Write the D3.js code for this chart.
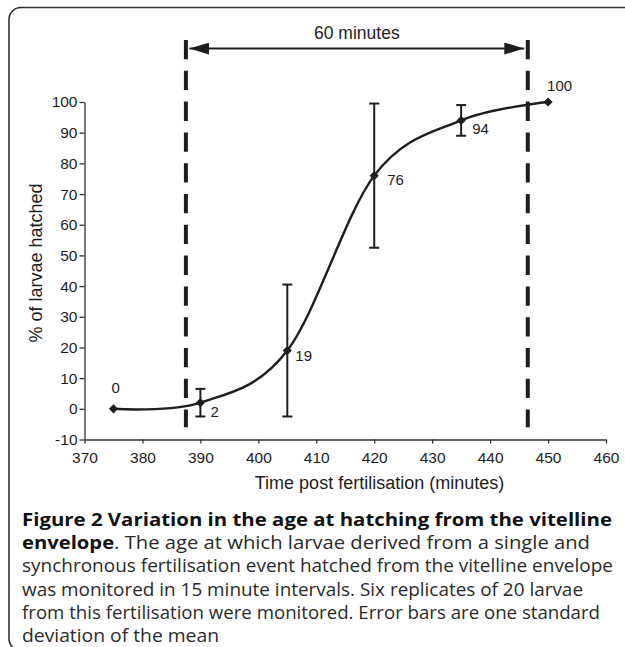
<!DOCTYPE html>
<html>
<head>
<meta charset="utf-8">
<script src="https://cdn.jsdelivr.net/npm/d3@7/dist/d3.min.js"></script>
<style>
  html, body { margin: 0; padding: 0; background: #fff; }
  svg { display: block; }
</style>
</head>
<body>
<script>
// ---------- data ----------
const times = [375, 390, 405, 420, 435, 450];
const hatched = [0, 2, 19, 76, 94, 100];
const sdev = [0, 4.5, 21.5, 23.5, 5, 0];
const pointLabels = ["0", "2", "19", "76", "94", "100"];
const xTicks = [370, 380, 390, 400, 410, 420, 430, 440, 450, 460];
const yTicks = [-10, 0, 10, 20, 30, 40, 50, 60, 70, 80, 90, 100];
const windowMarks = [387.5, 446.5];
const windowText = "60 minutes";
const xTitle = "Time post fertilisation (minutes)";
const yTitle = "% of larvae hatched";
const captionBold = ["Figure 2 Variation in the age at hatching from the vitelline", "envelope"];
const captionLine2Rest = ". The age at which larvae derived from a single and";
const captionLines = [
  "synchronous fertilisation event hatched from the vitelline envelope",
  "was monitored in 15 minute intervals. Six replicates of 20 larvae",
  "from this fertilisation were monitored. Error bars are one standard",
  "deviation of the mean"
];

// ---------- layout ----------
const W = 625, H = 647;
const svg = d3.select("body").append("svg").attr("width", W).attr("height", H);

const x = d3.scaleLinear().domain([370, 460]).range([84.5, 606]);
const y = d3.scaleLinear().domain([-10, 100]).range([439.5, 102]);
const ink = "#1e1e1e";
const chartFont = "'Liberation Sans', Arial, Helvetica, sans-serif";
const capFont = "'Open Sans', 'Noto Sans', sans-serif";

// frame
svg.append("rect")
  .attr("x", 9).attr("y", 7.5).attr("width", 700).attr("height", 643)
  .attr("rx", 12).attr("ry", 12)
  .attr("fill", "none").attr("stroke", "#333").attr("stroke-width", 1.6);

// axes
const gx = svg.append("g").attr("transform", `translate(0,${y(-10)})`)
  .call(d3.axisBottom(x).tickValues(xTicks).tickFormat(d => String(d))
    .tickSize(4).tickSizeOuter(0).tickPadding(8));
const gy = svg.append("g").attr("transform", `translate(${x(370)},0)`)
  .call(d3.axisLeft(y).tickValues(yTicks).tickFormat(d => String(d))
    .tickSize(5).tickSizeOuter(0).tickPadding(2));
[gx, gy].forEach(g => {
  g.selectAll("path, line").attr("stroke", "#333").attr("stroke-width", 1.3);
  g.selectAll("text").attr("fill", ink).style("font-family", chartFont).style("font-size", "15.5px");
});

// axis titles
svg.append("text").attr("x", 379.5).attr("y", 489)
  .attr("text-anchor", "middle").attr("fill", ink)
  .style("font-family", chartFont).style("font-size", "18px").text(xTitle);
svg.append("text").attr("transform", `translate(42,${263}) rotate(-90)`)
  .attr("text-anchor", "middle").attr("fill", ink)
  .style("font-family", chartFont).style("font-size", "18px").text(yTitle);

// dashed window lines
svg.selectAll("line.win").data(windowMarks).join("line")
  .attr("class", "win")
  .attr("x1", d => x(d)).attr("x2", d => x(d))
  .attr("y1", 40).attr("y2", y(-6))
  .attr("stroke", ink).attr("stroke-width", 4)
  .attr("stroke-dasharray", "19.3,11.5");

// double arrow
const defs = svg.append("defs");
["start", "end"].forEach(k => {
  defs.append("marker").attr("id", "arr-" + k)
    .attr("viewBox", "0 0 20 12").attr("refX", 20).attr("refY", 6)
    .attr("markerWidth", 20).attr("markerHeight", 12)
    .attr("markerUnits", "userSpaceOnUse")
    .attr("orient", k === "start" ? "auto-start-reverse" : "auto")
    .append("path").attr("d", "M0,0 L20,6 L0,12 Z").attr("fill", ink);
});
svg.append("line")
  .attr("x1", x(windowMarks[0]) + 3.5).attr("x2", x(windowMarks[1]) - 3.5)
  .attr("y1", 48.5).attr("y2", 48.5)
  .attr("stroke", ink).attr("stroke-width", 2.2)
  .attr("marker-start", "url(#arr-start)").attr("marker-end", "url(#arr-end)");
svg.append("text").attr("x", (x(windowMarks[0]) + x(windowMarks[1])) / 2).attr("y", 39)
  .attr("text-anchor", "middle").attr("fill", ink)
  .style("font-family", chartFont).style("font-size", "17.5px").text(windowText);

// data
const pts = times.map((t, i) => ({ t, v: hatched[i], sd: sdev[i], lab: pointLabels[i] }));

// smoothed line
const line = d3.line().x(d => x(d.t)).y(d => y(d.v)).curve(d3.curveCardinal.tension(0));
svg.append("path").datum(pts).attr("d", line)
  .attr("fill", "none").attr("stroke", ink).attr("stroke-width", 2.4);

// error bars
const eb = svg.selectAll("g.eb").data(pts.filter(d => d.sd > 0)).join("g").attr("class", "eb");
eb.append("line").attr("x1", d => x(d.t)).attr("x2", d => x(d.t))
  .attr("y1", d => y(d.v - d.sd)).attr("y2", d => y(d.v + d.sd));
eb.append("line").attr("x1", d => x(d.t) - 5).attr("x2", d => x(d.t) + 5)
  .attr("y1", d => y(d.v - d.sd)).attr("y2", d => y(d.v - d.sd));
eb.append("line").attr("x1", d => x(d.t) - 5).attr("x2", d => x(d.t) + 5)
  .attr("y1", d => y(d.v + d.sd)).attr("y2", d => y(d.v + d.sd));
eb.selectAll("line").attr("stroke", ink).attr("stroke-width", 2);

// diamond markers
const sym = d3.symbol().type(d3.symbolSquare).size(42);
svg.selectAll("path.mk").data(pts).join("path").attr("class", "mk")
  .attr("d", sym)
  .attr("transform", d => `translate(${x(d.t)},${y(d.v)}) rotate(45)`)
  .attr("fill", ink);

// point labels
const labelOffset = [[-2, -16], [10, 14], [8, 10], [13, 9], [11, 13.5], [-1, -11]];
svg.selectAll("text.pl").data(pts).join("text").attr("class", "pl")
  .attr("x", (d, i) => x(d.t) + labelOffset[i][0])
  .attr("y", (d, i) => y(d.v) + labelOffset[i][1])
  .attr("fill", ink)
  .style("font-family", chartFont).style("font-size", "15px")
  .text(d => d.lab);

// caption
const capX = 22, capY0 = 526, capDy = 23.2;
const capSize = "18.5px";
svg.append("text").attr("x", capX).attr("y", capY0)
  .attr("fill", "#111").style("font-family", capFont).style("font-size", capSize)
  .style("font-weight", "700").attr("textLength", 612 - capX).attr("lengthAdjust", "spacingAndGlyphs")
  .text(captionBold[0]);
const t2 = svg.append("text").attr("x", capX).attr("y", capY0 + capDy)
  .attr("fill", "#2a2a2a").style("font-family", capFont).style("font-size", capSize)
  .attr("textLength", 590 - capX).attr("lengthAdjust", "spacingAndGlyphs");
t2.append("tspan").style("font-weight", "700").attr("fill", "#111").text(captionBold[1]);
t2.append("tspan").text(captionLine2Rest);
const lineEnds = [613, 583, 600, 219];
captionLines.forEach((s, i) => {
  svg.append("text").attr("x", capX).attr("y", capY0 + capDy * (i + 2))
    .attr("fill", "#2a2a2a").style("font-family", capFont).style("font-size", capSize)
    .attr("textLength", lineEnds[i] - capX).attr("lengthAdjust", "spacingAndGlyphs")
    .text(s);
});
</script>
</body>
</html>
